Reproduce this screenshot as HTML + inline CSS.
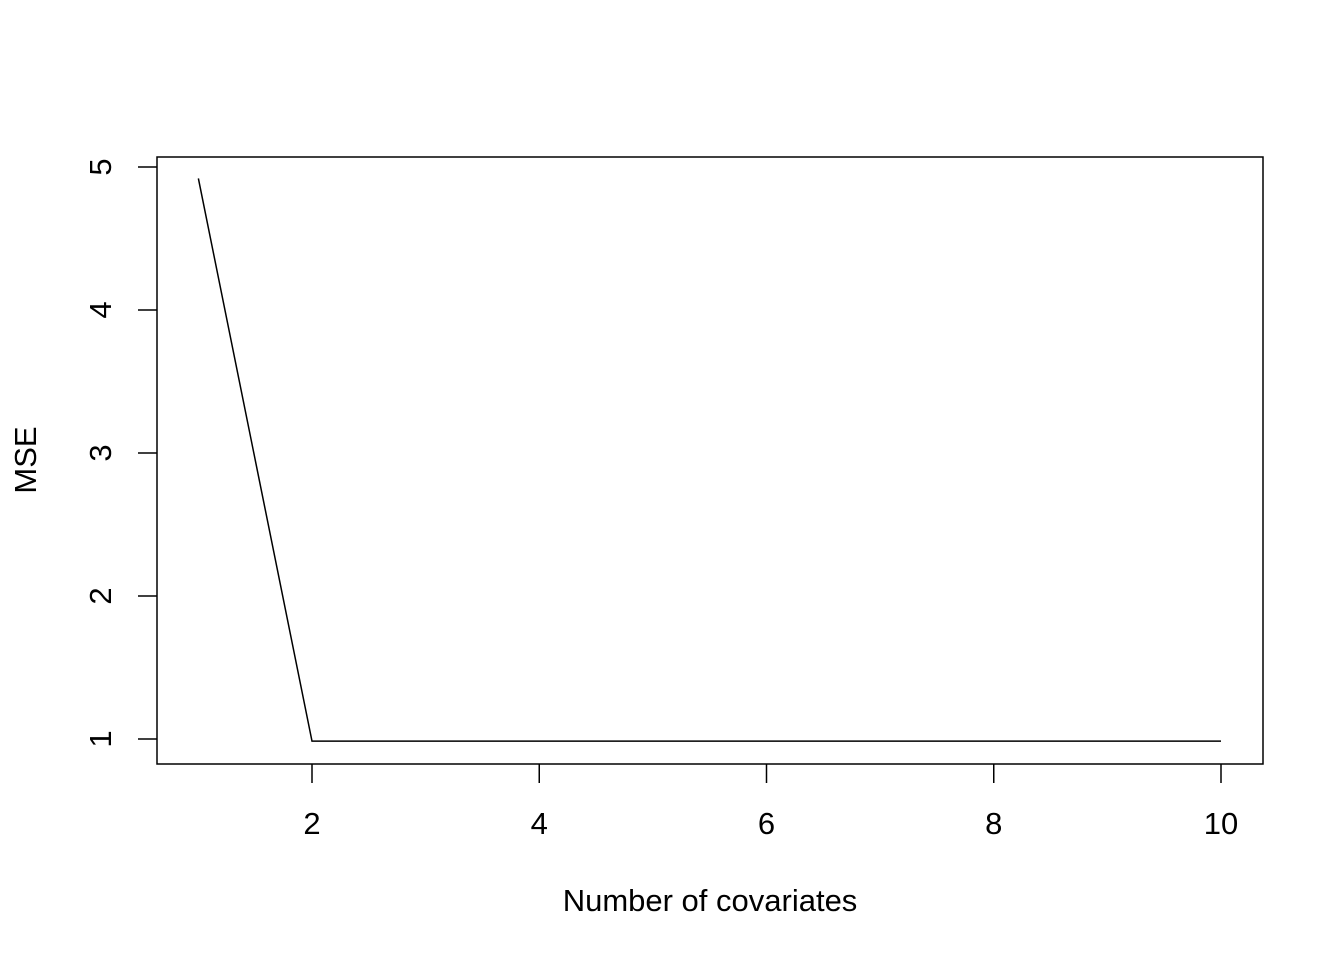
<!DOCTYPE html>
<html><head><meta charset="utf-8"><style>
html,body{margin:0;padding:0;background:#fff;}
svg{display:block;font-family:"Liberation Sans",Arial,sans-serif;}
</style></head><body>
<svg id="chart" width="1344" height="960" viewBox="0 0 1344 960" xmlns="http://www.w3.org/2000/svg">
<rect width="1344" height="960" fill="#fff"/>
<rect x="157" y="157" width="1106" height="607" fill="none" stroke="#000" stroke-width="1.5"/>
<g id="xaxis"></g>
<g id="yaxis"></g>
<g id="series"></g>
<text x="710" y="911" font-size="31" text-anchor="middle">Number of covariates</text>
<text transform="translate(36,460) rotate(-90)" font-size="31" text-anchor="middle">MSE</text>
</svg>
<script>
const xValues=[1,2,3,4,5,6,7,8,9,10];
const mseValues=[4.92,0.985,0.985,0.985,0.985,0.985,0.985,0.985,0.985,0.985];
const xTicks=[2,4,6,8,10];
const yTicks=[1,2,3,4,5];
const NS="http://www.w3.org/2000/svg";
function sx(v){return 312+(v-2)*113.625;}
function sy(v){return 739-(v-1)*143;}
function mk(t,a,p){const e=document.createElementNS(NS,t);for(const k in a)e.setAttribute(k,a[k]);p.appendChild(e);return e;}
const xa=document.getElementById('xaxis'),ya=document.getElementById('yaxis'),se=document.getElementById('series');
xTicks.forEach(v=>{
 const l=mk('line',{x1:sx(v),x2:sx(v),y1:764,y2:783,stroke:'#000','stroke-width':1.5},xa);
 
 
 const t=mk('text',{x:sx(v),y:834,'font-size':31,'text-anchor':'middle'},xa);
 
 
 t.textContent=v;
});
yTicks.forEach(v=>{
 const l=mk('line',{x1:138,x2:157,y1:sy(v),y2:sy(v),stroke:'#000','stroke-width':1.5},ya);
 
 
 const t=mk('text',{transform:`translate(111,${sy(v)}) rotate(-90)`,'font-size':31,'text-anchor':'middle'},ya);
 
 
 t.textContent=v;
});
const pl=mk('polyline',{points:xValues.map((x,i)=>sx(x)+','+sy(mseValues[i])).join(' '),fill:'none',stroke:'#000','stroke-width':1.5},se);


</script>
</body></html>
